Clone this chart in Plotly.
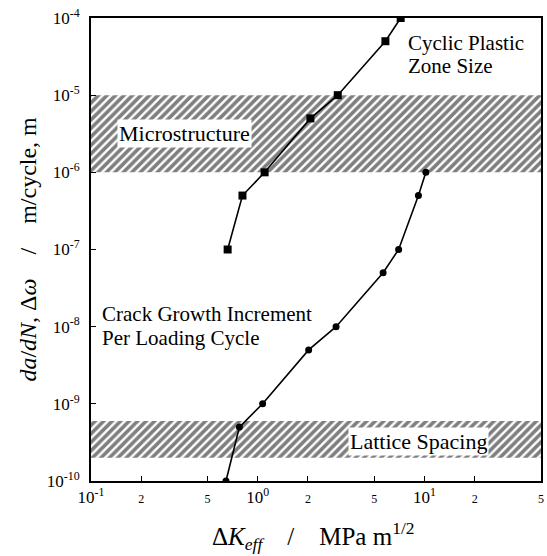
import plotly.graph_objects as go

# Data
sq_x = [0.66, 0.81, 1.10, 2.07, 3.02, 5.83, 7.2]
sq_y = [1e-7, 5e-7, 1e-6, 5e-6, 1e-5, 5e-5, 1e-4]
ci_x = [0.645, 0.776, 1.07, 2.02, 2.95, 5.65, 7.0, 9.2, 10.2]
ci_y = [1e-10, 5e-10, 1e-9, 5e-9, 1e-8, 5e-8, 1e-7, 5e-7, 1e-6]

x_range = [0.1, 50]
micro_band = [1e-6, 1e-5]
lattice_band = [2e-10, 6e-10]

x_tickvals = [0.1, 0.2, 0.5, 1, 2, 5, 10, 20, 50]
x_ticktext = ["10<sup>-1</sup>", "<span style='font-size:12px'>2</span>", "<span style='font-size:12px'>5</span>",
              "10<sup>0</sup>", "<span style='font-size:12px'>2</span>", "<span style='font-size:12px'>5</span>",
              "10<sup>1</sup>", "<span style='font-size:12px'>2</span>", "<span style='font-size:12px'>5</span>"]
y_tickvals = [1e-10, 1e-9, 1e-8, 1e-7, 1e-6, 1e-5, 1e-4]
y_ticktext = ["10<sup>-10</sup>", "10<sup>-9</sup>", "10<sup>-8</sup>", "10<sup>-7</sup>",
              "10<sup>-6</sup>", "10<sup>-5</sup>", "10<sup>-4</sup>"]

FONT = "Liberation Serif"

fig = go.Figure()

def band(lo, hi):
    fig.add_trace(go.Scatter(
        x=[x_range[0], x_range[1], x_range[1], x_range[0], x_range[0]],
        y=[lo, lo, hi, hi, lo],
        mode="lines", line=dict(width=0, color="rgba(0,0,0,0)"),
        fill="toself", fillcolor="white",
        fillpattern=dict(shape="/", fgcolor="black", bgcolor="white", size=6, solidity=0.6),
        hoverinfo="skip", showlegend=False))

band(*micro_band)
band(*lattice_band)

fig.add_trace(go.Scatter(x=sq_x, y=sq_y, mode="lines+markers",
                         line=dict(color="black", width=1.6),
                         marker=dict(symbol="square", size=8, color="black"),
                         showlegend=False))
fig.add_trace(go.Scatter(x=ci_x, y=ci_y, mode="lines+markers",
                         line=dict(color="black", width=1.6),
                         marker=dict(symbol="circle", size=7, color="black"),
                         showlegend=False))

axis_common = dict(type="log", showgrid=False, zeroline=False, showline=True,
                   linecolor="black", linewidth=2, mirror=True,
                   ticks="inside", ticklen=5, tickwidth=1, tickcolor="black",
                   tickfont=dict(family=FONT, size=17, color="black"))

fig.update_xaxes(range=[-1, 1.69897], tickmode="array", tickvals=x_tickvals,
                 ticktext=x_ticktext, **axis_common)
fig.update_yaxes(range=[-10, -4], tickmode="array", tickvals=y_tickvals,
                 ticktext=y_ticktext, ticklabelstandoff=6, **axis_common)

ann_font = dict(family=FONT, size=21, color="black")
band_font = dict(family=FONT, size=22, color="black")
annotations = [
    dict(x=0.70, y=0.947, text="Cyclic Plastic", xanchor="left", yanchor="middle", font=ann_font),
    dict(x=0.70, y=0.896, text="Zone Size", xanchor="left", yanchor="middle", font=ann_font),
    dict(x=0.058, y=0.75, text="Microstructure", xanchor="left", yanchor="middle",
         font=band_font, bgcolor="white", borderpad=1),
    dict(x=0.019, y=0.36, text="Crack Growth Increment", xanchor="left",
         yanchor="middle", font=ann_font),
    dict(x=0.019, y=0.308, text="Per Loading Cycle", xanchor="left",
         yanchor="middle", font=ann_font),
    dict(x=0.572, y=0.085, text="Lattice Spacing", xanchor="left", yanchor="middle",
         font=band_font, bgcolor="white", borderpad=1),
]
for a in annotations:
    a.update(xref="paper", yref="paper", showarrow=False)

annotations.append(dict(
    xref="paper", yref="paper", x=0.495, y=-0.118, yanchor="middle", xanchor="center",
    text="\u0394<i>K</i><sub><i>eff</i></sub>\u00a0\u00a0\u00a0\u00a0/\u00a0\u00a0\u00a0\u00a0MPa\u00a0m<sup>1/2</sup>",
    showarrow=False, font=dict(family=FONT, size=25, color="black")))
annotations.append(dict(
    xref="paper", yref="paper", x=-0.142, y=0.5, yanchor="middle", xanchor="center",
    textangle=-90,
    text="<i>da</i>/<i>dN</i>, \u0394<i>\u03c9</i>\u00a0\u00a0\u00a0\u00a0/\u00a0\u00a0\u00a0\u00a0m/cycle, m",
    showarrow=False, font=dict(family=FONT, size=24, color="black")))

fig.update_layout(width=547, height=556, margin=dict(l=91, r=3, t=18, b=75),
                  plot_bgcolor="white", paper_bgcolor="white",
                  annotations=annotations, showlegend=False,
                  font=dict(family=FONT, color="black"))

fig.write_html("out.html")
